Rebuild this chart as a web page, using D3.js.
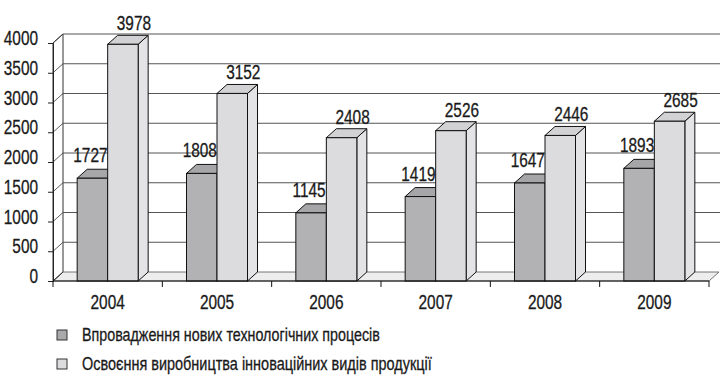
<!DOCTYPE html>
<html><head><meta charset="utf-8">
<script src="https://cdn.jsdelivr.net/npm/d3@7"></script>
<style>
html,body{margin:0;padding:0;background:#fff;}
svg text{font-family:'Liberation Sans',Arial,sans-serif;fill:#1a1a1a;stroke:#1a1a1a;stroke-width:0.3px;}
</style></head>
<body><svg id="c" width="720" height="383"></svg>
<script>
const years = ["2004","2005","2006","2007","2008","2009"];
const techProcesses = [1727,1808,1145,1419,1647,1893];
const newProducts = [3978,3152,2408,2526,2446,2685];
const yTicks = [0,500,1000,1500,2000,2500,3000,3500,4000];
const seriesNames = ["Впровадження нових технологічних процесів","Освоєння виробництва інноваційних видів продукції"];
const seriesKeys = ["tech","prod"];

const svg = d3.select("#c");
const DX = 10, DY = -9;
const left = 53, right = 709;
const NARROW = 0.77;
const FS = 20;
const y = d3.scaleLinear().domain([0,4000]).range([281,43]);
const x = d3.scaleBand().domain(years).range([left,right]).padding(0);
const barW = 30.5;
const sub = d3.scaleBand().domain(seriesKeys).range([x.bandwidth()/2 - barW, x.bandwidth()/2 + barW]).padding(0);
const colors = {tech:{front:"#b2b2b4",top:"#a6a6a8",side:"#9c9c9e"}, prod:{front:"#dcdcde",top:"#d2d2d4",side:"#e4e4e6"}};

function ntext(sel, tx, ty, str, size, anchor, sx){
  const gg = sel.append("g").attr("transform",`translate(${tx},${ty}) scale(${sx||NARROW},1)`);
  return gg.append("text").attr("text-anchor",anchor||"start").attr("font-size",size).text(str);
}

const g = svg.append("g");
const base = y(0);
// back wall
g.append("rect").attr("x",left+DX).attr("y",y(4000)+DY).attr("width",right-left).attr("height",base-y(4000)).attr("fill","#fff");
// floor
g.append("polygon").attr("points",[[left,base],[right,base],[right+DX,base+DY],[left+DX,base+DY]].map(p=>p.join(",")).join(" "))
 .attr("fill","#ededed").attr("stroke","#555").attr("stroke-width",0.8);
// left wall
g.append("polygon").attr("points",[[left,base],[left+DX,base+DY],[left+DX,y(4000)+DY],[left,y(4000)]].map(p=>p.join(",")).join(" "))
 .attr("fill","#fff").attr("stroke","#333").attr("stroke-width",1);
// gridlines on back wall and left wall
yTicks.forEach(t=>{
  if(t>0) g.append("line").attr("x1",left+DX).attr("x2",right+DX+1).attr("y1",y(t)+DY).attr("y2",y(t)+DY).attr("stroke","#555").attr("stroke-width",1);
  g.append("line").attr("x1",left).attr("x2",left+DX).attr("y1",y(t)).attr("y2",y(t)+DY).attr("stroke","#333").attr("stroke-width",0.8);
});
// y axis
const yAxis = d3.axisLeft(y).tickValues(yTicks).tickSize(5).tickFormat("");
const ya = g.append("g").attr("transform",`translate(${left},0)`).call(yAxis);
ya.select(".domain").attr("stroke","#222");
ya.selectAll(".tick line").attr("stroke","#222");
yTicks.forEach(t=>{
  ntext(g, 38, y(t)+2, d3.format("d")(t), FS, "end");
});

// bars
function box(sel, x0, x1, y0, c){
  sel.append("polygon").attr("points",[[x1,y0],[x1+DX,y0+DY],[x1+DX,base+DY],[x1,base]].map(p=>p.join(",")).join(" "))
    .attr("fill",c.side).attr("stroke","#111").attr("stroke-width",1);
  sel.append("polygon").attr("points",[[x0,y0],[x0+DX,y0+DY],[x1+DX,y0+DY],[x1,y0]].map(p=>p.join(",")).join(" "))
    .attr("fill",c.top).attr("stroke","#111").attr("stroke-width",1);
  sel.append("rect").attr("x",x0).attr("y",y0).attr("width",x1-x0).attr("height",base-y0)
    .attr("fill",c.front).attr("stroke","#111").attr("stroke-width",1);
}
const bars = g.append("g");
years.forEach((yr,i)=>{
  const vals = {tech:techProcesses[i], prod:newProducts[i]};
  seriesKeys.forEach(k=>{
    const x0 = x(yr)+sub(k), x1 = x0+sub.bandwidth();
    box(bars, x0, x1, y(vals[k]), colors[k]);
  });
});
// value labels
years.forEach((yr,i)=>{
  const vals = {tech:techProcesses[i], prod:newProducts[i]};
  seriesKeys.forEach(k=>{
    const cx = x(yr)+sub(k)+sub.bandwidth()/2 + (k==="tech"?-2:11);
    ntext(g, cx, y(vals[k])-(k==="tech"?16:14), vals[k], FS, "middle");
  });
});

// x axis
const xa = g.append("g").attr("transform",`translate(0,${base})`);
xa.append("line").attr("x1",left).attr("x2",right).attr("stroke","#111").attr("stroke-width",1.2);
d3.range(years.length+1).forEach(i=>{
  const xx = left + i*x.step();
  xa.append("line").attr("x1",xx).attr("x2",xx).attr("y1",0).attr("y2",6).attr("stroke","#111");
});
years.forEach(d=>{ ntext(xa, x(d)+x.bandwidth()/2, 28, d, FS, "middle"); });

// legend
const lg = g.append("g");
const legendW = [298, 350];
seriesKeys.forEach((k,i)=>{
  const ly = 335 + i*29;
  lg.append("rect").attr("x",57).attr("y",ly-5).attr("width",10).attr("height",10)
    .attr("fill",k==="tech"?"#a9a9ab":"#dcdcde").attr("stroke","#333").attr("stroke-width",1);
  const t = ntext(lg, 82, ly, seriesNames[i], 17.5, "start", 1).attr("dy","0.36em");
  const w = t.node().getComputedTextLength();
  d3.select(t.node().parentNode).attr("transform",`translate(82,${ly}) scale(${legendW[i]/w},1)`);
});
</script></body></html>
